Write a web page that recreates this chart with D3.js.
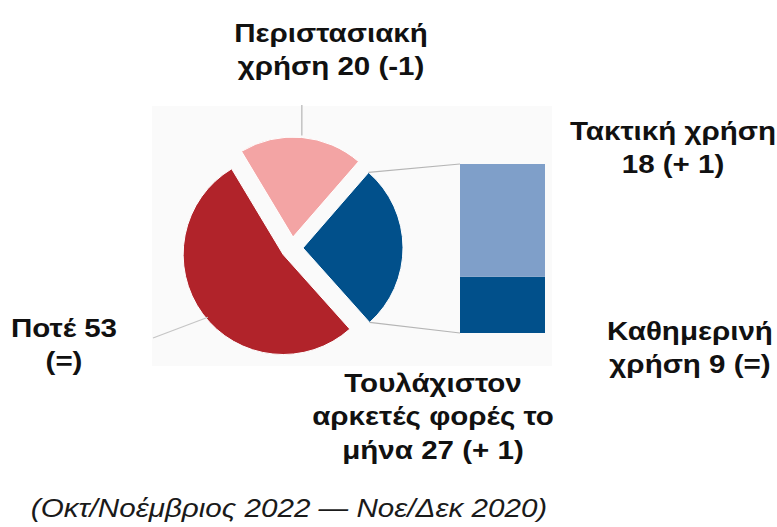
<!DOCTYPE html>
<html>
<head>
<meta charset="utf-8">
<script src="https://cdn.jsdelivr.net/npm/d3@7"></script>
<style>
  html, body { margin: 0; padding: 0; background: #ffffff; }
  svg { display: block; }
  .lbl { font-family: "Liberation Sans", Arial, sans-serif; font-weight: bold; fill: #111; }
  .foot { font-family: "Liberation Sans", Arial, sans-serif; font-style: italic; fill: #1a1a1a; }
</style>
</head>
<body>
<svg id="chart" width="777" height="527"></svg>
<script>
// ---- data ----
const pieCategories = ["Ποτέ", "Περιστασιακή χρήση", "Τουλάχιστον αρκετές φορές το μήνα"];
const pieValues = [53, 20, 27];
const pieChanges = ["(=)", "(-1)", "(+ 1)"];
const pieColors = ["#b1232a", "#f3a4a4", "#01508b"];

const barCategories = ["Καθημερινή χρήση", "Τακτική χρήση"];
const barValues = [9, 18];
const barChanges = ["(=)", "(+ 1)"];
const barColors = ["#01508b", "#7f9fc9"];

const pieLabelLines = [
  ["Ποτέ 53", "(=)"],
  ["Περιστασιακή", "χρήση 20 (-1)"],
  ["Τουλάχιστον", "αρκετές φορές το", "μήνα 27 (+ 1)"]
];
const barLabelLines = [
  ["Καθημερινή", "χρήση 9 (=)"],
  ["Τακτική χρήση", "18 (+ 1)"]
];
const footnote = "(Οκτ/Νοέμβριος 2022 — Νοε/Δεκ 2020)";

// ---- layout ----
const svg = d3.select("#chart");
const cx = 292, cy = 248, R = 100, explode = 11;
const fontSize = 26.5, lineH = 33.5, stretch = 1.115;

// faint background panel behind the pie (as in the source image)
svg.append("rect").attr("x", 152).attr("y", 106).attr("width", 400).attr("height", 260)
  .attr("fill", "#fafafa");

const startA = 138.2 * Math.PI / 180;
const pie = d3.pie().sort(null).startAngle(startA).endAngle(startA + 2 * Math.PI);
const arcs = pie(pieValues);
const arcGen = d3.arc().innerRadius(0).outerRadius(R);

function offset(a) {
  const m = (a.startAngle + a.endAngle) / 2;
  return [explode * Math.sin(m), -explode * Math.cos(m)];
}

const g = svg.append("g").attr("transform", `translate(${cx},${cy})`);
g.selectAll("path.slice").data(arcs).enter().append("path")
  .attr("class", "slice")
  .attr("transform", d => { const o = offset(d); return `translate(${o[0]},${o[1]})`; })
  .attr("d", arcGen)
  .attr("fill", (d, i) => pieColors[i])
  .attr("stroke", "#fff").attr("stroke-width", 1);

// ---- bar of pie ----
const barX = 460, barW = 85;
const y = d3.scaleLinear().domain([0, d3.sum(barValues)]).range([333, 164]);
const stack = [];
let acc = 0;
barValues.forEach((v, i) => { stack.push({ v, i, y0: acc, y1: acc + v }); acc += v; });
svg.selectAll("rect.bar").data(stack).enter().append("rect")
  .attr("class", "bar")
  .attr("x", barX).attr("width", barW)
  .attr("y", d => y(d.y1)).attr("height", d => y(d.y0) - y(d.y1))
  .attr("fill", d => barColors[d.i]);

// connector lines from the blue slice to the bar
const blue = arcs[2];
const bo = offset(blue);
const p1 = [cx + bo[0] + R * Math.sin(blue.startAngle), cy + bo[1] - R * Math.cos(blue.startAngle)];
const p2 = [cx + bo[0] + R * Math.sin(blue.endAngle), cy + bo[1] - R * Math.cos(blue.endAngle)];
svg.append("line").attr("x1", p1[0]).attr("y1", p1[1]).attr("x2", barX).attr("y2", y(d3.sum(barValues)))
  .attr("stroke", "#b5b5b5").attr("stroke-width", 1.2);
svg.append("line").attr("x1", p2[0]).attr("y1", p2[1]).attr("x2", barX).attr("y2", y(0))
  .attr("stroke", "#b5b5b5").attr("stroke-width", 1.2);

// leader lines
const pink = arcs[1], po = offset(pink), pm = (pink.startAngle + pink.endAngle) / 2;
const pinkOuter = [cx + po[0] + (R + 2) * Math.sin(pm), cy + po[1] - (R + 2) * Math.cos(pm)];
svg.append("line").attr("x1", pinkOuter[0]).attr("y1", pinkOuter[1]).attr("x2", pinkOuter[0]).attr("y2", 105)
  .attr("stroke", "#b5b5b5").attr("stroke-width", 1.2);

const red = arcs[0], ro = offset(red), rm = (red.startAngle + red.endAngle) / 2 - 0.06;
const redOuter = [cx + ro[0] + (R - 2) * Math.sin(rm), cy + ro[1] - (R - 2) * Math.cos(rm)];
svg.append("line").attr("x1", redOuter[0]).attr("y1", redOuter[1]).attr("x2", 153).attr("y2", 338)
  .attr("stroke", "#c5c5c5").attr("stroke-width", 1.2);

// ---- labels ----
function label(lines, x, yBase) {
  const t = svg.append("text").attr("class", "lbl").attr("text-anchor", "middle")
    .attr("transform", `translate(${x},0) scale(${stretch},1)`)
    .style("font-size", fontSize + "px");
  lines.forEach((s, i) => t.append("tspan").attr("x", 0).attr("y", yBase + i * lineH).text(s));
}
label(pieLabelLines[1], 331, 42);
label(pieLabelLines[0], 64, 337);
label(pieLabelLines[2], 433, 392);
label(barLabelLines[1], 673, 140);
label(barLabelLines[0], 690, 340);

svg.append("text").attr("class", "foot").attr("text-anchor", "middle")
  .attr("transform", `translate(289,517) scale(1.14,1)`)
  .style("font-size", "26px").text(footnote);
</script>
</body>
</html>
